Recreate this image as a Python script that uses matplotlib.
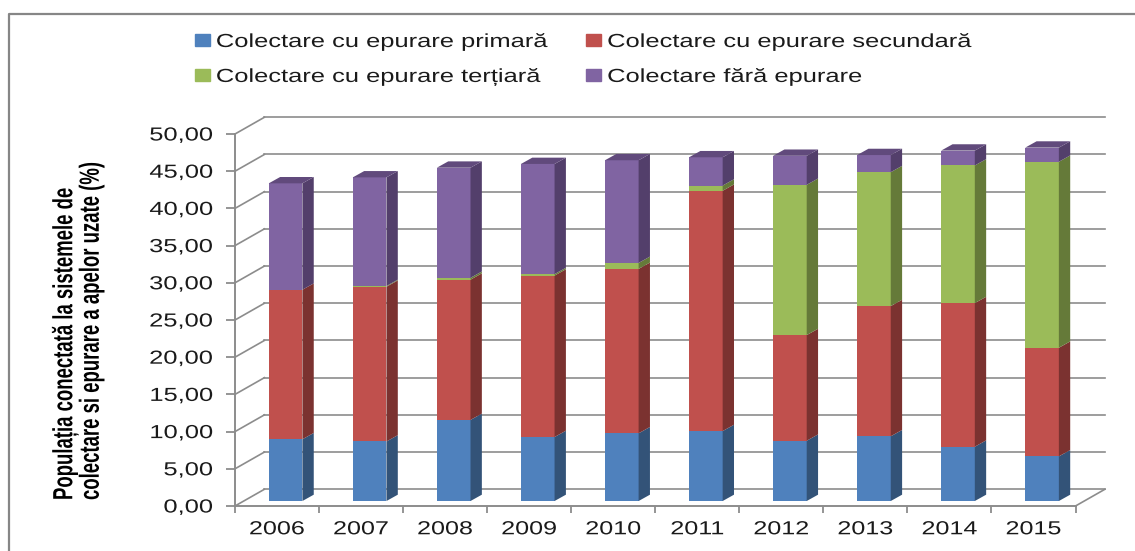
import numpy as np
import matplotlib
matplotlib.use("Agg")
import matplotlib.pyplot as plt
from matplotlib.lines import Line2D
from matplotlib.patches import Rectangle
from matplotlib.patheffects import AbstractPathEffect
from matplotlib.transforms import Affine2D

years = ["2006", "2007", "2008", "2009", "2010", "2011", "2012", "2013", "2014", "2015"]
primara = [8.3, 8.0, 10.9, 8.6, 9.1, 9.4, 8.1, 8.7, 7.3, 6.0]
secundara = [20.1, 20.8, 18.85, 21.7, 22.1, 32.3, 14.2, 17.5, 19.3, 14.6]
tertiara = [0.0, 0.1, 0.25, 0.2, 0.8, 0.7, 20.2, 18.0, 18.5, 25.0]
fara = [14.3, 14.6, 14.8, 14.8, 13.8, 3.8, 3.9, 2.3, 2.0, 1.9]
labels = ["Colectare cu epurare primară", "Colectare cu epurare secundară",
          "Colectare cu epurare terțiară", "Colectare fără epurare"]
yticks = [0, 5, 10, 15, 20, 25, 30, 35, 40, 45, 50]

W, H = 1135, 551
FONT = "Liberation Sans"
GRID = "#8c8c8c"
SIZE = 13.6
STRETCH = 1.35

# colours: front, side, top
blue = ("#4f81bd", "#335378", "#3f6797")
red = ("#c0504d", "#7b3230", "#9a403e")
green = ("#9bbb59", "#657a39", "#7c9647")
purple = ("#8064a2", "#533f6b", "#614a7c")

# pseudo 3d offsets, x in categories, y in percent
WALL_DX, WALL_DY = 0.35, 2.25
BAR_DX, BAR_DY = 0.102, 0.67
SIDE_DX, SIDE_DY = 0.135, 0.85
BAR_W = 0.40


class Stretch(AbstractPathEffect):
    # the reference is a stretched screenshot, text is wider than any font here
    def __init__(self, sx, anchor="left", sy=1):
        super().__init__()
        self.sx = sx
        self.sy = sy
        self.anchor = anchor

    def draw_path(self, renderer, gc, tpath, affine, rgbFace=None):
        ext = tpath.get_extents()
        a = {"left": 0, "right": ext.x1, "center": (ext.x0 + ext.x1) / 2}[self.anchor]
        t = Affine2D().translate(-a, 0).scale(self.sx, self.sy).translate(a, 0)
        renderer.draw_path(gc, tpath, t + affine, rgbFace)


fig = plt.figure(figsize=(W / 100, H / 100), dpi=100)
fig.patch.set_facecolor("white")

# outer frame, only top and left are inside the picture
fig.add_artist(Line2D([8.5 / W, 8.5 / W, 1], [0, 1 - 13.5 / H, 1 - 13.5 / H], transform=fig.transFigure,
                      color="#868686", lw=1.6))

ax = fig.add_axes([235 / W, 1 - 506 / H, (1075.5 - 235) / W, (506 - 134) / H])
ax.set_xlim(0, 10)
ax.set_ylim(0, 50)
ax.patch.set_alpha(0)

# back wall grid and the diagonals on the side wall
for t in yticks:
    ax.plot([WALL_DX, 10 + WALL_DX], [t + WALL_DY, t + WALL_DY], color=GRID, lw=1.2, clip_on=False, zorder=1)
    ax.plot([0, WALL_DX], [t, t + WALL_DY], color=GRID, lw=1.2, clip_on=False, zorder=1)
ax.plot([10, 10 + WALL_DX], [0, WALL_DY], color=GRID, lw=1.2, clip_on=False, zorder=1)

x = np.arange(len(years)) + 0.5 + BAR_DX
series = [(primara, blue), (secundara, red), (tertiara, green), (fara, purple)]
bottom = np.zeros(len(years))
handles = []
for vals, cols in series:
    vals = np.array(vals)
    top = bottom + vals
    ax.bar(x, vals, width=BAR_W, bottom=bottom + BAR_DY, color=cols[0], clip_on=False, zorder=3)
    handles.append(Rectangle((0, 0), 1, 1, color=cols[0]))
    for xi, b0, t0 in zip(x, bottom, top):
        if t0 == b0:
            continue
        xr = xi + BAR_W / 2
        ax.fill([xr, xr + SIDE_DX, xr + SIDE_DX, xr],
                [b0 + BAR_DY, b0 + BAR_DY + SIDE_DY, t0 + BAR_DY + SIDE_DY, t0 + BAR_DY],
                color=cols[1], lw=0, clip_on=False, zorder=3)
    bottom = top

# lid of each column takes the colour of the last series
for xi, t0 in zip(x, bottom):
    xl = xi - BAR_W / 2
    xr = xi + BAR_W / 2
    ax.fill([xl, xl + SIDE_DX, xr + SIDE_DX, xr],
            [t0 + BAR_DY, t0 + BAR_DY + SIDE_DY, t0 + BAR_DY + SIDE_DY, t0 + BAR_DY],
            color=purple[2], lw=0, clip_on=False, zorder=3)

for s in ["top", "right"]:
    ax.spines[s].set_visible(False)
for s in ["left", "bottom"]:
    ax.spines[s].set_color(GRID)
    ax.spines[s].set_linewidth(1.4)

ax.set_yticks(yticks)
ax.set_yticklabels([("%.2f" % t).replace(".", ",") for t in yticks], fontfamily=FONT, fontsize=SIZE, color="#1a1a1a")
ax.tick_params(axis="y", length=6.5, width=1.3, color=GRID, pad=9.5)
for lab in ax.get_yticklabels():
    lab.set_path_effects([Stretch(STRETCH, "right")])

ax.set_xticks(np.arange(11))
ax.set_xticklabels([])
ax.tick_params(axis="x", length=5, width=1.3, color=GRID)
for i, yr in enumerate(years):
    t = ax.annotate(yr, (i + 0.5, 0), xytext=(0, -11), textcoords="offset points", ha="center", va="top",
                    fontfamily=FONT, fontsize=SIZE, color="#1a1a1a", annotation_clip=False)
    t.set_path_effects([Stretch(1.33, "center")])

yl = fig.text(80 / W, 1 - 500 / H, "Populația conectată la sistemele de\ncolectare si epurare a apelor uzate (%)",
              rotation=90, ha="center", va="bottom", multialignment="left",
              fontfamily=FONT, fontweight="bold", fontsize=15, linespacing=1.5)
yl.set_path_effects([Stretch(0.89, "left", sy=1.33)])

leg = fig.legend([handles[0], handles[2], handles[1], handles[3]],
                 [labels[0], labels[2], labels[1], labels[3]],
                 ncol=2, loc="upper left", bbox_to_anchor=(194.5 / W, 1 - 34 / H), frameon=False,
                 prop={"family": FONT, "size": SIZE}, handlelength=0.8, handleheight=0.6,
                 handletextpad=0.33, columnspacing=6.64, labelspacing=0.95, borderpad=0, borderaxespad=0)
for t in leg.get_texts():
    t.set_color("#1a1a1a")
    t.set_path_effects([Stretch(STRETCH, "left")])

fig.savefig("out.png", dpi=100)
